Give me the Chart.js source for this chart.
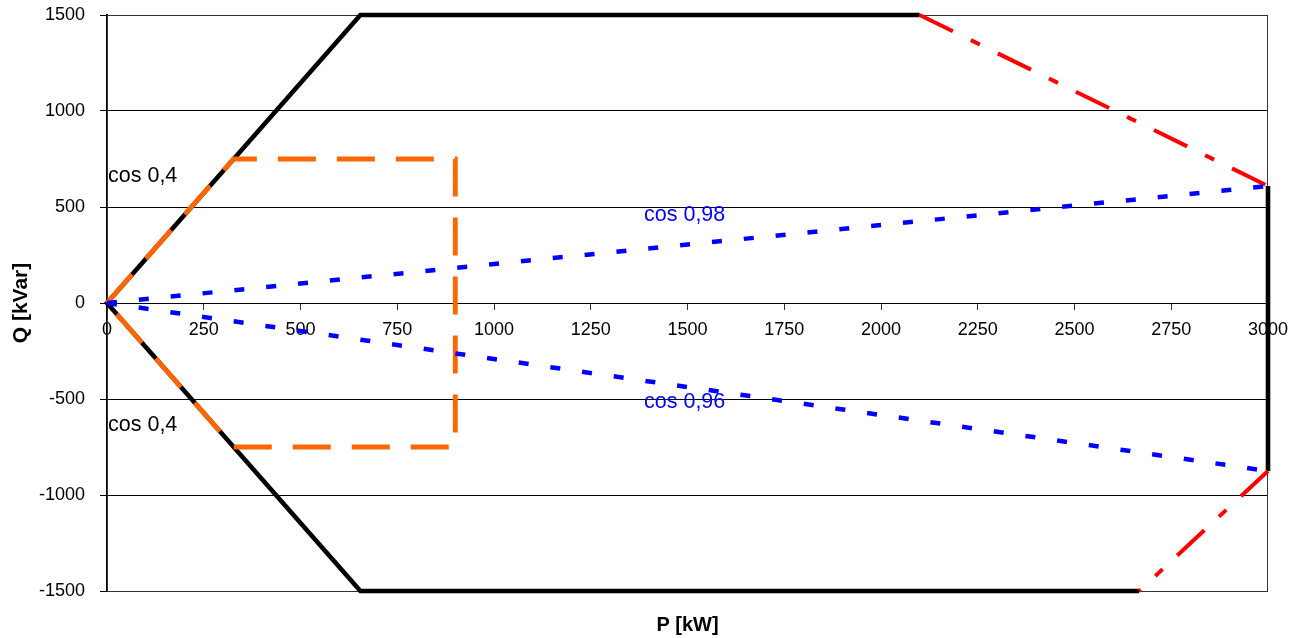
<!DOCTYPE html>
<html>
<head>
<meta charset="utf-8">
<script src="https://cdn.jsdelivr.net/npm/chart.js@4"></script>
<style>
  html, body { margin: 0; padding: 0; background: #fff; }
  #wrap { width: 1304px; height: 638px; }
</style>
</head>
<body>
<div id="wrap"><canvas id="pqChart" width="1304" height="638"></canvas></div>
<script>
// P-Q capability diagram
const xTicks = [0, 250, 500, 750, 1000, 1250, 1500, 1750, 2000, 2250, 2500, 2750, 3000];
const yTicks = [-1500, -1000, -500, 0, 500, 1000, 1500];

// black envelope (cos 0,4 limit + 1500 kVar limit)
const envelopeP = [2100, 654.7, 0, 654.7, 2667];
const envelopeQ = [1500, 1500, 0, -1500, -1500];
const edgeP = [3000, 3000];
const edgeQ = [609, -875];

// red dash-dot corners
const redTopP = [2100, 3000];
const redTopQ = [1500, 609];
const redBottomP = [3000, 2667];
const redBottomQ = [-875, -1500];

// blue cos phi lines
const cos98P = [0, 3000];
const cos98Q = [0, 609];
const cos96P = [0, 3000];
const cos96Q = [0, -875];

// orange box
const boxP = [0, 327, 900, 900, 327, 0];
const boxQ = [0, 750, 750, -750, -750, 0];

const notes = [
  { text: 'cos 0,4', p: 0, q: 662, color: '#000000' },
  { text: 'cos 0,4', p: 0, q: -638, color: '#000000' },
  { text: 'cos 0,98', p: 1385, q: 460, color: '#0000ff' },
  { text: 'cos 0,96', p: 1385, q: -518, color: '#0000ff' }
];

function pts(px, qy) {
  return px.map(function (p, i) { return { x: p, y: qy[i] }; });
}

function line(px, qy, color, width, dash, order) {
  return {
    data: pts(px, qy),
    borderColor: color,
    borderWidth: width,
    borderDash: dash,
    borderCapStyle: 'butt',
    borderJoinStyle: 'miter',
    pointRadius: 0,
    showLine: true,
    fill: false,
    tension: 0,
    clip: false,
    order: order
  };
}

const FONT = "'Liberation Sans', Arial, sans-serif";

const extras = {
  id: 'extras',
  beforeDatasetsDraw: function (chart) {
    const a = chart.chartArea;
    const ctx = chart.ctx;
    ctx.save();
    ctx.strokeStyle = '#333333';
    ctx.lineWidth = 1;
    ctx.strokeRect(a.left + 0.5, a.top + 0.5, a.right - a.left - 1, a.bottom - a.top);
    ctx.restore();
  },
  afterDraw: function (chart) {
    const ctx = chart.ctx;
    const xs = chart.scales.x;
    const ys = chart.scales.y;
    ctx.save();
    ctx.font = '21.5px ' + FONT;
    ctx.textBaseline = 'middle';
    ctx.textAlign = 'left';
    notes.forEach(function (n) {
      ctx.fillStyle = n.color;
      ctx.fillText(n.text, xs.getPixelForValue(n.p) + 1, ys.getPixelForValue(n.q));
    });
    ctx.font = 'bold 20px ' + FONT;
    ctx.fillStyle = '#000000';
    ctx.textAlign = 'center';
    ctx.fillText('P [kW]', (chart.chartArea.left + chart.chartArea.right) / 2, 625);
    ctx.restore();
  }
};

function plain(v) { return String(v); }

function noPad(scale) {
  scale.paddingTop = 0;
  scale.paddingBottom = 0;
}

new Chart(document.getElementById('pqChart').getContext('2d'), {
  type: 'scatter',
  data: {
    datasets: [
      line(cos98P, cos98Q, '#0000ff', 4.5, [10, 22], 1),
      line(cos96P, cos96Q, '#0000ff', 4.5, [10, 22], 1),
      line(boxP, boxQ, '#ff6600', 4.8, [38, 21], 2),
      line(redTopP, redTopQ, '#ff0000', 4, [37, 20, 10, 20], 3),
      line(redBottomP, redBottomQ, '#ff0000', 4, [37, 20, 10, 20], 3),
      line(envelopeP, envelopeQ, '#000000', 4.6, [], 4),
      line(edgeP, edgeQ, '#000000', 4.6, [], 4)
    ]
  },
  options: {
    responsive: false,
    animation: false,
    layout: { padding: { left: 0, right: 36, top: 15, bottom: 47 } },
    plugins: {
      legend: { display: false },
      tooltip: { enabled: false }
    },
    scales: {
      x: {
        type: 'linear',
        position: { y: 0 },
        min: 0,
        max: 3000,
        afterBuildTicks: function (scale) {
          scale.ticks = xTicks.map(function (v) { return { value: v }; });
        },
        afterFit: noPad,
        grid: { drawOnChartArea: false, drawTicks: true, tickLength: 6, color: '#333333' },
        border: { display: true, color: '#000000', width: 1 },
        ticks: {
          color: '#000000',
          font: { family: FONT, size: 18 },
          padding: 10,
          autoSkip: false,
          maxRotation: 0,
          callback: plain
        }
      },
      y: {
        type: 'linear',
        position: 'left',
        min: -1500,
        max: 1500,
        afterBuildTicks: function (scale) {
          scale.ticks = yTicks.map(function (v) { return { value: v }; });
        },
        afterFit: function (scale) { scale.width = 107; noPad(scale); },
        grid: { color: '#000000', lineWidth: 1, tickLength: 7 },
        border: { display: true, color: '#000000', width: 2 },
        ticks: {
          color: '#000000',
          font: { family: FONT, size: 18 },
          padding: 15,
          callback: plain
        },
        title: {
          display: true,
          text: 'Q [kVar]',
          color: '#000000',
          font: { family: FONT, size: 21, weight: 'bold' },
          padding: { top: 9, bottom: 0 }
        }
      }
    }
  },
  plugins: [extras]
});
</script>
</body>
</html>
